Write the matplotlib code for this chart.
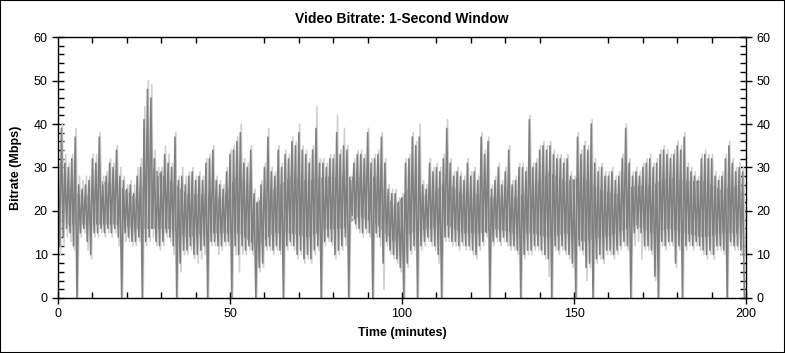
import numpy as np
import matplotlib.pyplot as plt
from matplotlib.ticker import MultipleLocator
from matplotlib.patches import Rectangle

plt.rcParams['font.family'] = ['Liberation Sans', 'DejaVu Sans']

# minute index (0..199)
minutes = np.arange(200)

# dark trace: per-minute upper and lower extremes (Mbps)
hi = [30, 39, 31, 30, 32, 37, 26, 25, 26, 27, 32, 31, 37, 26, 28, 31, 30, 34, 28, 27,
      25, 26, 24, 28, 30, 41, 48, 46, 32, 28, 29, 33, 31, 30, 37, 27, 28, 26, 28, 29,
      27, 28, 27, 31, 32, 34, 27, 26, 25, 29, 33, 34, 36, 38, 31, 30, 34, 24, 22, 26,
      30, 37, 29, 28, 34, 30, 33, 32, 36, 35, 38, 34, 33, 31, 34, 39, 31, 31, 30, 32,
      32, 38, 33, 35, 34, 27, 31, 33, 33, 32, 38, 31, 32, 33, 37, 31, 25, 24, 24, 22,
      23, 31, 32, 37, 35, 37, 26, 25, 31, 29, 30, 29, 32, 39, 31, 28, 29, 28, 27, 31,
      28, 29, 27, 37, 33, 36, 25, 27, 30, 26, 29, 34, 26, 27, 30, 30, 29, 41, 30, 31,
      34, 35, 34, 35, 33, 32, 32, 31, 32, 28, 27, 37, 33, 35, 34, 40, 31, 29, 30, 28,
      28, 29, 27, 28, 32, 39, 31, 28, 29, 28, 30, 31, 32, 30, 31, 33, 34, 33, 32, 33,
      35, 34, 37, 30, 29, 28, 27, 32, 33, 32, 32, 28, 27, 28, 32, 35, 31, 29, 30, 29]
lo = [12, 14, 16, 15, 12, 0, 15, 16, 13, 10, 15, 15, 16, 15, 16, 15, 16, 14, 0, 15,
      14, 13, 13, 14, 0, 13, 14, 16, 13, 12, 13, 15, 14, 12, 0, 8, 11, 11, 12, 10,
      10, 11, 12, 0, 13, 13, 12, 12, 13, 13, 0, 12, 10, 12, 11, 12, 11, 0, 7, 8,
      12, 12, 11, 12, 11, 0, 12, 13, 12, 10, 11, 9, 10, 9, 11, 12, 0, 13, 14, 13,
      10, 11, 12, 14, 0, 19, 17, 16, 15, 16, 15, 0, 15, 14, 8, 13, 11, 10, 9, 7,
      0, 8, 11, 12, 0, 12, 13, 14, 13, 12, 10, 0, 14, 14, 13, 13, 12, 13, 12, 12,
      11, 10, 12, 13, 15, 0, 13, 14, 13, 14, 13, 12, 12, 11, 0, 10, 11, 11, 12, 12,
      11, 10, 9, 0, 12, 11, 12, 11, 10, 8, 0, 12, 11, 7, 8, 0, 9, 10, 9, 11,
      11, 10, 11, 12, 13, 12, 0, 15, 16, 15, 12, 12, 11, 5, 0, 13, 12, 13, 13, 8,
      12, 0, 12, 13, 12, 13, 12, 11, 10, 11, 10, 12, 12, 11, 0, 13, 12, 12, 11, 0]

# light trace: per-minute extremes of the paler series behind
lt_hi = [31, 40, 33, 31, 33, 39, 28, 27, 28, 28, 33, 33, 38, 28, 29, 32, 31, 35, 30, 28,
         26, 27, 26, 30, 32, 44, 50, 49, 34, 30, 30, 35, 33, 31, 38, 28, 30, 28, 29, 30,
         28, 29, 28, 32, 33, 35, 28, 27, 26, 30, 34, 35, 37, 40, 32, 31, 35, 25, 23, 27,
         31, 39, 30, 29, 35, 31, 34, 33, 37, 36, 40, 35, 34, 32, 35, 44, 32, 32, 31, 33,
         33, 42, 34, 39, 35, 28, 32, 34, 34, 33, 39, 32, 33, 34, 38, 32, 26, 25, 25, 23,
         24, 32, 33, 38, 36, 40, 27, 26, 32, 30, 31, 30, 33, 41, 32, 29, 30, 29, 28, 32,
         29, 30, 28, 38, 34, 37, 26, 28, 31, 27, 30, 35, 27, 28, 31, 31, 30, 42, 31, 32,
         35, 36, 35, 36, 34, 33, 33, 32, 33, 29, 28, 38, 34, 36, 35, 41, 32, 30, 31, 29,
         29, 30, 28, 29, 33, 40, 32, 29, 30, 29, 31, 32, 33, 31, 32, 34, 35, 34, 33, 34,
         36, 35, 38, 31, 30, 29, 28, 33, 34, 33, 33, 29, 28, 29, 33, 36, 32, 30, 31, 30]
lt_lo = [10, 12, 14, 13, 11, 0, 14, 15, 11, 9, 14, 14, 15, 14, 15, 14, 15, 12, 0, 13,
         13, 12, 12, 13, 0, 12, 13, 14, 12, 11, 12, 14, 13, 10, 0, 6, 10, 10, 11, 9,
         8, 9, 10, 0, 12, 12, 10, 11, 12, 12, 0, 10, 6, 10, 10, 11, 10, 0, 6, 7,
         11, 11, 10, 11, 10, 0, 11, 12, 11, 9, 10, 8, 9, 8, 10, 11, 0, 12, 13, 12,
         9, 10, 11, 12, 0, 18, 16, 15, 14, 15, 14, 0, 14, 12, 2, 12, 10, 9, 8, 6,
         0, 7, 10, 11, 0, 11, 12, 13, 12, 11, 8, 0, 13, 13, 12, 12, 11, 12, 11, 11,
         10, 9, 11, 12, 14, 0, 12, 13, 12, 13, 12, 11, 11, 10, 0, 9, 10, 10, 11, 11,
         10, 9, 5, 0, 11, 10, 11, 10, 9, 7, 0, 11, 10, 4, 7, 0, 8, 9, 8, 10,
         10, 9, 10, 11, 12, 11, 0, 12, 13, 9, 11, 11, 10, 4, 0, 12, 11, 12, 12, 7,
         11, 0, 11, 12, 11, 12, 11, 10, 9, 10, 9, 11, 11, 10, 0, 12, 11, 11, 10, 10]

# dense core of the band, one value per 5-minute block (centre at 2.5, 7.5, ...)
block_mid = np.arange(2.5, 200, 5)
core_hi = [26, 23, 27, 26, 23, 30, 27, 24, 24, 23, 29, 22, 25, 28, 27, 28, 28, 28, 28, 21,
           26, 23, 27, 24, 24, 23, 23, 25, 29, 27, 28, 25, 24, 26, 26, 28, 27, 27, 25, 26]
core_lo = [17, 17, 17, 17, 16, 16, 16, 14, 15, 15, 15, 12, 15, 15, 14, 16, 16, 19, 17, 13,
           15, 16, 17, 15, 15, 16, 15, 15, 14, 15, 13, 14, 15, 17, 15, 16, 15, 14, 15, 15]


def zigzag(t, top, bottom, shift):
    x = np.column_stack([t + shift, t + shift + 0.5]).ravel()
    y = np.column_stack([top, bottom]).ravel()
    return x, y


fig = plt.figure(figsize=(7.85, 3.53), dpi=100)
ax = fig.add_axes([0.0739, 0.156, 0.8765, 0.739])

lx, ly = zigzag(minutes, np.array(lt_hi), np.array(lt_lo), 0.25)
dx, dy = zigzag(minutes, np.array(hi), np.array(lo), 0.0)
ax.plot(lx, ly, color='#d0d0d0', lw=1.2)
ax.fill_between(block_mid, core_lo, core_hi, color='#808080', lw=0)
ax.plot(dx, dy, color='#808080', lw=1.15)

ax.set_xlim(0, 200)
ax.set_ylim(0, 60)
ax.xaxis.set_major_locator(MultipleLocator(50))
ax.xaxis.set_minor_locator(MultipleLocator(10))
ax.yaxis.set_major_locator(MultipleLocator(10))
ax.yaxis.set_minor_locator(MultipleLocator(2))

ax.tick_params(axis='both', which='major', direction='inout', length=8, width=1,
               labelsize=9, colors='black', top=True, right=True, labelright=True)
ax.tick_params(axis='both', which='minor', direction='in', length=4, width=1,
               top=True, right=True)
ax.tick_params(axis='x', which='major', top=False)
ax.tick_params(axis='x', which='major', pad=3)
for sp in ax.spines.values():
    sp.set_linewidth(1)

ax.set_title('Video Bitrate: 1-Second Window', fontsize=10, fontweight='bold', pad=10)
ax.set_xlabel('Time (minutes)', fontsize=9, fontweight='bold', labelpad=5)
ax.set_ylabel('Bitrate (Mbps)', fontsize=9, fontweight='bold', labelpad=8)

fig.patches.append(Rectangle((0, 0), 1, 1, transform=fig.transFigure, fill=False,
                             edgecolor='black', lw=1.5))

fig.savefig('out.png', dpi=100)
